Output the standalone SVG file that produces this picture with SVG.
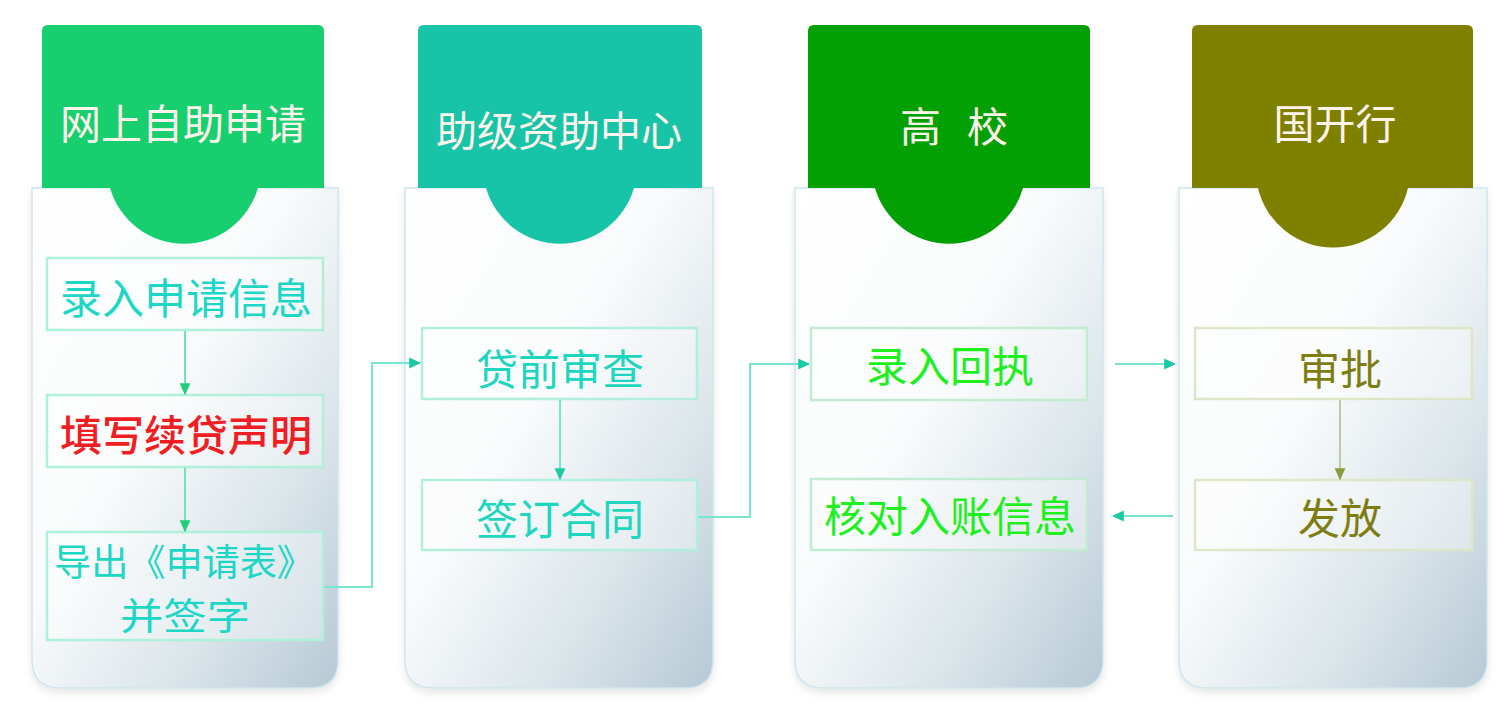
<svg xmlns="http://www.w3.org/2000/svg" width="1510" height="724" viewBox="0 0 1510 724">
<defs>
<linearGradient id="cardGrad" x1="0" y1="0" x2="1" y2="1">
<stop offset="0" stop-color="#ffffff"/>
<stop offset="0.42" stop-color="#f9fbfc"/>
<stop offset="0.72" stop-color="#dbe5ea"/>
<stop offset="1" stop-color="#b6c9d5"/>
</linearGradient>
<filter id="shadow" x="-10%" y="-5%" width="120%" height="115%">
<feGaussianBlur in="SourceAlpha" stdDeviation="4"/>
<feOffset dy="4"/>
<feComponentTransfer><feFuncA type="linear" slope="0.1"/></feComponentTransfer>
<feMerge><feMergeNode/><feMergeNode in="SourceGraphic"/></feMerge>
</filter>
<marker id="arrCyan" markerUnits="userSpaceOnUse" markerWidth="12" markerHeight="12" viewBox="0 0 10 10" refX="9" refY="5" orient="auto">
<path d="M0,0.5 L10,5 L0,9.5 z" fill="#1cc9a2"/>
</marker>
<marker id="arrGreen" markerUnits="userSpaceOnUse" markerWidth="12" markerHeight="12" viewBox="0 0 10 10" refX="9" refY="5" orient="auto">
<path d="M0,0.5 L10,5 L0,9.5 z" fill="#22cc78"/>
</marker>
<marker id="arrOlive" markerUnits="userSpaceOnUse" markerWidth="12" markerHeight="12" viewBox="0 0 10 10" refX="9" refY="5" orient="auto">
<path d="M0,0.5 L10,5 L0,9.5 z" fill="#8c9a3c"/>
</marker>
</defs>
<style>
.card{fill:url(#cardGrad);stroke:#cfe5ee;stroke-width:1.5;filter:url(#shadow)}
.head{stroke:none}
.htxt{font-family:"Noto Sans CJK SC","Noto Sans",sans-serif;font-size:41px;fill:#fff4ec;text-anchor:middle;dominant-baseline:central}
.box{fill:#ffffff;fill-opacity:0.35;stroke-width:2.5}
.t{font-family:"Noto Sans CJK SC","Noto Sans",sans-serif;font-size:42px;text-anchor:middle;dominant-baseline:central}
.t2{font-family:"Noto Sans CJK SC","Noto Sans",sans-serif;font-size:37px;text-anchor:middle;dominant-baseline:central}
.conn{fill:none;stroke-width:2}
</style>
<rect width="1510" height="724" fill="#ffffff"/>

<g id="col1">
<path class="card" d="M32,188 H338 V660 Q338,688 310,688 H60 Q32,688 32,660 Z"/>
<path class="head" fill="#17cf6e" d="M42,31 Q42,25 48,25 H318 Q324,25 324,31 V188 H258 A77,77 0 0 1 110,188 H42 Z"/>
<text class="htxt" x="183" y="121">网上自助申请</text>
<g id="n1a"><rect class="box" x="47" y="258" width="276" height="72" stroke="#aef0d8"/><text class="t" x="186" y="295" fill="#1cd6c6">录入申请信息</text></g>
<g id="n1b"><rect class="box" x="47" y="395" width="276" height="72" stroke="#aef0d8"/><text class="t" x="186" y="432" fill="#f01e22" font-weight="500">填写续贷声明</text></g>
<g id="n1c"><rect class="box" x="47" y="532" width="276" height="108" stroke="#aef0d8"/><text class="t2" x="184" y="560" fill="#1cd6c6" textLength="260" lengthAdjust="spacingAndGlyphs">导出《申请表》</text><text class="t2" x="185" y="614" fill="#1cd6c6" textLength="130" lengthAdjust="spacingAndGlyphs">并签字</text></g>
</g>

<g id="col2">
<path class="card" d="M405,188 H713 V660 Q713,688 685,688 H433 Q405,688 405,660 Z"/>
<path class="head" fill="#17c4a8" d="M418,31 Q418,25 424,25 H696 Q702,25 702,31 V188 H634 A77,77 0 0 1 486,188 H418 Z"/>
<text class="htxt" x="559" y="128">助级资助中心</text>
<g id="n2a"><rect class="box" x="422" y="328" width="275" height="71" stroke="#b2eedc"/><text class="t" x="560" y="366" fill="#1cd6c0">贷前审查</text></g>
<g id="n2b"><rect class="box" x="422" y="480" width="275" height="70" stroke="#b2eedc"/><text class="t" x="560" y="516" fill="#1cd6c0">签订合同</text></g>
</g>

<g id="col3">
<path class="card" d="M795,188 H1103 V660 Q1103,688 1075,688 H823 Q795,688 795,660 Z"/>
<path class="head" fill="#02a002" d="M808,31 Q808,25 814,25 H1084 Q1090,25 1090,31 V188 H1023 A77,77 0 0 1 875,188 H808 Z"/>
<text class="htxt" x="954" y="124" xml:space="preserve" textLength="108" lengthAdjust="spacing">高  校</text>
<g id="n3a"><rect class="box" x="811" y="328" width="276" height="72" stroke="#c2ecd2"/><text class="t" x="950" y="363" fill="#1ef01e">录入回执</text></g>
<g id="n3b"><rect class="box" x="811" y="479" width="276" height="71" stroke="#c2ecd2"/><text class="t" x="950" y="513" fill="#1ef01e">核对入账信息</text></g>
</g>

<g id="col4">
<path class="card" d="M1179,188 H1487 V660 Q1487,688 1459,688 H1207 Q1179,688 1179,660 Z"/>
<path class="head" fill="#808000" d="M1192,31 Q1192,25 1198,25 H1467 Q1473,25 1473,31 V188 H1408 A77,77 0 0 1 1258,188 H1192 Z"/>
<text class="htxt" x="1335" y="121">国开行</text>
<g id="n4a"><rect class="box" x="1195" y="328" width="277" height="71" stroke="#dfe6c8"/><text class="t" x="1340" y="366" fill="#7d7d12">审批</text></g>
<g id="n4b"><rect class="box" x="1195" y="480" width="277" height="70" stroke="#dfe6c8"/><text class="t" x="1340" y="515" fill="#7d7d12">发放</text></g>
</g>

<g id="connectors">
<path class="conn" stroke="#72e2bc" d="M185,331 V394" marker-end="url(#arrGreen)"/>
<path class="conn" stroke="#72e2bc" d="M185,468 V531" marker-end="url(#arrGreen)"/>
<path class="conn" stroke="#76e6d0" d="M324,587 H372 V363 H420" marker-end="url(#arrCyan)"/>
<path class="conn" stroke="#76e6d0" d="M560,400 V479" marker-end="url(#arrCyan)"/>
<path class="conn" stroke="#76e6d0" d="M698,517 H750 V364 H809" marker-end="url(#arrCyan)"/>
<path class="conn" stroke="#76e6d0" d="M1115,364 H1175" marker-end="url(#arrCyan)"/>
<path class="conn" stroke="#76e6d0" d="M1173,516 H1113" marker-end="url(#arrCyan)"/>
<path class="conn" stroke="#bccb9e" d="M1340,400 V479" marker-end="url(#arrOlive)"/>
</g>
</svg>
